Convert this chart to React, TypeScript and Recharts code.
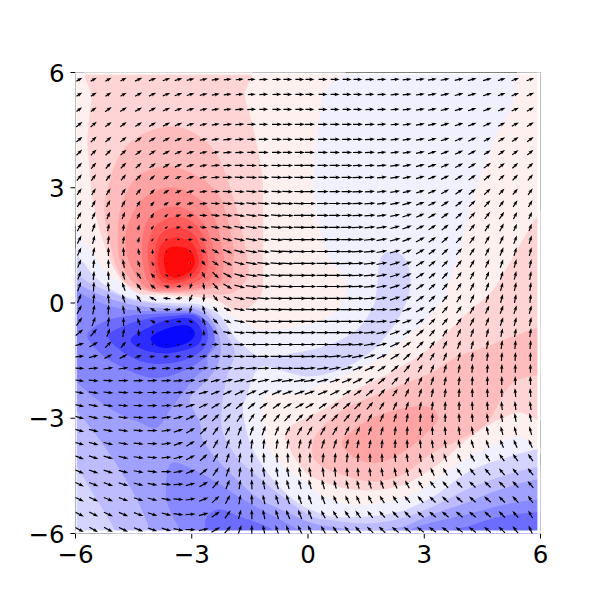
import { ScatterChart, Scatter, XAxis, YAxis, ReferenceArea } from 'recharts'

type P = [number, number]

const ticks = [-6, -3, 0, 3, 6]

// quiver grid (denser round the middle)
const colX = [-5.9, -5.53, -5.15, -4.76, -4.37, -4.01, -3.65, -3.34, -3.03, -2.69, -2.38, -2.07, -1.76, -1.45, -1.14, -0.8, -0.52, -0.21, 0.05, 0.39, 0.7, 1.01, 1.29, 1.6, 1.91, 2.25, 2.56, 2.9, 3.21, 3.54, 3.9, 4.24, 4.63, 5.0, 5.35, 5.74]
const rowY = [5.82, 5.43, 5.04, 4.65, 4.26, 3.92, 3.58, 3.27, 2.9, 2.59, 2.28, 1.97, 1.65, 1.34, 1.03, 0.72, 0.43, 0.12, -0.17, -0.48, -0.77, -1.08, -1.39, -1.7, -2.02, -2.33, -2.67, -2.98, -3.32, -3.66, -4.02, -4.39, -4.72, -5.11, -5.5, -5.9]

// arrow direction in degrees, one row per rowY
const angles = [
  [30,30,30,28,25,22,20,18,15,12,10,7,5,3,2,1,0,0,0,0,0,0,0,2,3,4,5,7,9,11,13,15,16,18,19,20],
  [33,33,32,30,28,25,22,20,16,13,10,7,5,3,2,1,0,0,0,0,0,0,0,2,3,5,6,8,10,12,14,16,18,20,22,23],
  [36,36,35,33,30,27,24,21,17,13,10,7,4,2,1,0,0,0,0,0,0,0,0,2,3,5,7,9,11,14,16,18,21,23,25,27],
  [40,40,38,36,33,30,26,22,18,14,10,6,4,2,0,0,0,0,0,0,0,0,0,2,4,5,8,10,13,16,18,21,24,27,29,31],
  [42,43,42,39,36,32,28,23,18,14,10,6,3,1,0,-1,-1,0,0,0,0,0,1,3,4,6,9,11,15,18,21,25,28,31,34,36],
  [45,46,45,42,38,34,29,24,18,13,9,5,2,0,-1,-1,-1,0,0,0,0,0,1,3,5,7,10,13,17,21,24,28,32,35,38,40],
  [48,50,49,46,42,37,31,24,17,12,7,3,0,-1,-2,-1,-1,0,0,0,0,0,1,3,5,8,11,15,19,23,28,32,36,40,43,45],
  [52,54,53,51,46,41,32,24,16,10,5,1,-2,-3,-3,-2,-1,-1,0,0,0,0,2,3,6,9,12,17,21,26,31,36,40,44,47,50],
  [55,58,58,56,52,45,34,23,15,7,2,-2,-4,-4,-4,-3,-2,-1,0,0,0,0,2,4,7,10,14,19,24,30,35,40,44,48,52,55],
  [58,62,62,62,58,50,36,23,12,4,-2,-5,-6,-6,-5,-4,-2,-1,0,0,0,1,2,4,8,11,16,21,27,33,38,44,48,53,57,60],
  [60,65,68,68,65,58,40,20,8,0,-6,-8,-9,-8,-6,-5,-3,-1,0,0,0,1,3,5,8,12,18,24,30,36,42,47,53,57,62,65],
  [62,70,78,84,75,55,35,15,0,-5,-8,-10,-10,-8,-7,-5,-3,-1,0,0,0,1,3,6,9,14,20,26,33,39,45,51,57,62,66,70],
  [63,75,83,80,75,55,30,5,-5,-15,-18,-15,-12,-10,-7,-5,-3,-1,0,0,0,1,3,6,10,15,21,28,35,42,48,54,60,65,70,73],
  [65,78,90,93,100,90,60,0,-30,-35,-30,-22,-15,-10,-7,-5,-3,-1,0,0,0,1,3,6,10,16,23,30,37,44,50,57,63,68,73,76],
  [68,84,92,100,110,115,120,180,-60,-52,-35,-25,-15,-10,-7,-5,-3,-1,0,0,0,1,3,6,11,17,24,32,39,46,53,60,65,71,75,78],
  [70,85,95,105,125,132,150,180,-100,-65,-45,-28,-15,-8,-6,-4,-2,-1,0,0,0,1,3,6,11,18,25,33,41,48,55,62,67,73,77,80],
  [70,87,97,110,127,142,165,185,-110,-80,-50,-30,-15,-8,-5,-3,-2,0,0,0,0,1,2,6,11,18,26,34,42,50,57,63,69,74,78,82],
  [68,85,97,108,125,150,175,190,245,-95,-50,-25,-12,-7,-4,-2,-1,0,0,0,0,0,2,5,11,18,26,35,43,51,58,64,70,75,79,83],
  [62,78,88,100,120,150,178,190,255,105,-50,-25,-10,-5,-3,-2,-1,0,0,0,0,0,0,0,0,5,20,30,40,50,55,60,65,70,72,75],
  [55,70,82,90,110,150,172,180,150,112,-45,-25,-10,-4,-2,-1,0,0,0,0,0,0,0,0,5,10,20,35,45,50,55,62,68,72,75,78],
  [40,50,70,80,95,260,240,200,40,95,-40,-12,-5,-2,-1,0,0,0,0,0,0,0,2,5,10,20,30,40,50,57,65,70,75,78,80,82],
  [15,30,45,50,40,-60,-30,-5,25,12,0,-3,-2,0,0,0,0,0,0,0,0,3,5,10,15,25,35,45,55,62,68,75,80,82,85,85],
  [5,15,28,28,22,8,8,8,8,5,1,0,0,0,0,0,0,0,2,2,5,8,12,18,25,32,42,52,60,68,75,80,83,85,87,88],
  [-3,4,8,8,8,5,5,5,5,7,8,8,6,4,3,2,1,1,5,8,10,15,20,25,33,40,50,60,67,73,80,85,87,88,90,90],
  [-8,-5,-2,0,2,3,4,5,8,10,14,15,14,13,12,11,10,10,10,15,18,22,27,33,40,48,58,65,72,78,83,87,90,90,92,92],
  [-10,-8,-6,-4,-2,0,3,5,10,15,22,25,25,25,25,23,20,20,20,22,27,30,35,40,48,55,65,72,78,82,87,90,92,92,95,95],
  [-12,-10,-8,-5,-1,2,5,10,18,25,32,36,40,40,37,35,32,30,30,35,38,40,45,50,57,65,72,78,83,87,90,93,95,97,97,98],
  [-15,-13,-10,-6,-3,2,7,15,25,35,45,50,55,55,52,50,47,45,45,45,47,50,55,60,67,73,80,85,88,90,93,95,98,100,100,102],
  [-15,-14,-11,-8,-4,0,8,18,30,45,55,62,68,70,70,68,63,60,60,60,60,63,65,70,75,82,87,90,92,95,97,100,102,105,105,105],
  [-17,-15,-13,-10,-6,-1,8,20,32,45,60,70,77,83,85,82,80,78,75,72,72,75,78,80,85,88,92,95,97,100,103,107,110,113,113,115],
  [-20,-18,-15,-12,-8,-4,5,15,27,42,60,72,82,88,92,93,92,90,90,85,85,85,88,90,92,95,97,100,105,110,115,120,122,125,125,125],
  [-22,-20,-18,-15,-10,-6,0,10,22,38,55,70,82,92,98,100,100,100,100,97,95,93,95,97,100,102,105,110,115,120,125,128,130,130,130,128],
  [-25,-22,-20,-17,-15,-10,-5,3,15,30,50,68,82,92,100,105,105,105,105,105,105,105,105,107,110,115,118,122,128,130,133,135,135,135,133,130],
  [-25,-25,-22,-20,-18,-15,-10,-4,8,22,42,62,80,92,102,107,110,110,110,112,115,115,115,118,122,125,128,130,135,137,138,138,138,135,133,125],
  [-27,-27,-25,-22,-20,-18,-15,-8,3,15,35,55,75,92,102,108,112,112,112,118,122,125,125,128,130,133,135,137,140,140,140,140,138,135,130,120],
  [-27,-30,-28,-25,-22,-20,-17,-12,-2,12,30,50,70,90,102,108,112,115,115,120,125,130,132,135,137,140,142,143,145,145,143,142,140,135,128,115],
]

// arrow magnitude, one row per rowY
const speeds = [
  [7,7,7,7,8,8,8,8,8,8,8,8,8,8,9,9,9,9,9,9,9,9,9,9,9,9,9,9,9,9,9,9,9,8,8,8],
  [7,7,7,7,8,8,8,8,8,8,8,8,8,8,9,9,9,9,9,9,9,9,9,9,9,9,9,9,9,9,9,9,9,8,8,8],
  [7,7,8,8,8,8,8,8,8,8,8,8,9,9,9,9,9,9,9,9,9,9,9,9,9,9,9,9,9,9,9,9,9,8,8,8],
  [8,8,8,8,8,8,8,8,8,8,8,9,9,9,9,10,10,10,10,10,10,10,10,10,9,9,9,9,9,9,9,9,9,8,8,8],
  [8,8,8,8,8,8,8,8,8,8,8,9,9,9,10,10,10,10,10,10,10,10,10,10,10,9,9,9,9,9,9,9,8,8,8,8],
  [8,8,8,8,8,8,8,8,8,8,8,9,9,9,10,10,10,10,10,10,10,10,10,10,9,9,9,9,9,9,9,9,8,8,8,8],
  [8,8,8,8,8,8,8,8,8,8,9,9,10,10,10,11,11,11,11,11,11,11,10,10,10,10,9,9,9,9,9,9,9,8,8,8],
  [8,8,8,8,8,7,7,7,8,8,9,10,10,11,11,11,11,11,11,11,11,11,11,10,10,10,9,9,9,9,9,9,9,8,8,8],
  [8,8,8,8,8,7,7,7,8,8,9,10,10,11,11,11,11,11,11,11,11,11,11,10,10,10,9,9,9,9,9,9,9,8,8,8],
  [8,8,8,8,7,6,6,6,7,8,9,10,11,11,12,12,12,12,12,12,12,11,11,11,10,10,10,9,9,9,9,9,9,8,8,8],
  [8,8,8,8,7,6,5,6,7,8,9,10,11,11,12,12,12,12,12,12,12,11,11,11,10,10,10,9,9,9,9,9,9,9,8,8],
  [9,9,8,7,6,5,4,5,6,7,9,10,11,12,12,12,12,12,13,13,12,12,12,11,11,10,10,9,9,9,9,9,9,9,8,8],
  [9,9,9,8,6,4,3,3,5,7,9,10,11,12,12,12,13,13,13,13,13,12,12,12,11,11,10,10,9,9,9,9,9,9,9,9],
  [9,9,9,9,7,5,2,1,3,6,8,10,11,12,12,13,13,13,13,13,13,12,12,12,11,11,10,10,9,9,9,9,9,9,9,9],
  [9,9,9,9,7,5,1,0.5,2,6,8,10,11,12,13,13,13,13,13,13,13,13,12,12,11,11,10,10,9,9,9,9,9,9,9,9],
  [9,9,9,9,8,6,4,2,4,7,9,10,11,12,13,13,13,13,13,13,13,13,12,12,11,11,10,10,9,9,9,9,9,9,9,9],
  [10,10,10,9,8,7,6,5,6,7,9,10,11,12,13,13,13,13,13,13,13,13,12,12,11,11,10,10,9,9,9,9,9,9,9,9],
  [10,10,10,9,8,8,8,7,8,8,8,9,11,12,13,13,13,13,13,13,13,13,12,12,11,11,10,10,9,9,9,9,9,9,9,9],
  [10,10,10,9,8,7,7,7,8,9,7,8,11,12,13,13,13,13,13,13,13,13,12,12,11,11,10,10,9,9,9,9,9,9,9,9],
  [10,10,10,9,8,6,5,5,5,8,7,8,11,12,13,13,13,13,13,13,13,13,12,12,11,11,10,10,9,9,9,9,9,9,9,9],
  [10,10,9,9,7,4,1.5,1,1.5,6,6,9,11,12,13,13,13,13,13,13,13,13,12,12,11,11,10,10,9,9,9,9,9,9,9,9],
  [10,10,9,8,5,3,2,3,4,5,7,10,11,12,13,13,13,13,13,13,13,13,12,12,11,11,10,10,9,9,9,9,9,9,9,9],
  [10,10,9,9,7,6,6,6,7,8,9,10,11,12,12,13,13,13,13,13,13,12,12,12,11,11,10,10,9,9,9,9,9,9,9,9],
  [10,10,10,10,9,9,9,9,9,10,10,11,11,12,12,12,12,12,12,12,12,12,11,11,10,10,10,9,9,9,9,9,9,9,9,9],
  [10,10,10,10,10,10,10,10,10,10,10,11,11,11,12,12,12,12,12,12,11,11,11,10,10,10,9,9,9,9,9,9,9,9,9,9],
  [10,10,10,10,10,10,10,10,10,10,10,10,11,11,11,11,11,11,11,11,11,10,10,10,10,9,9,9,9,9,9,9,9,9,9,9],
  [10,10,10,10,10,10,10,10,10,10,10,10,10,10,10,10,10,10,10,10,10,10,10,10,9,9,9,9,9,9,9,9,9,9,9,9],
  [10,10,10,10,10,10,10,10,10,10,10,10,10,10,10,10,10,10,10,10,10,10,10,9,9,9,9,9,9,9,9,9,9,9,9,9],
  [10,10,10,10,10,10,10,10,10,10,10,10,10,10,10,10,10,10,10,10,10,10,9,9,9,9,9,9,9,9,9,9,9,9,9,9],
  [10,10,10,10,10,10,10,10,10,10,10,10,10,10,10,10,10,10,10,10,10,10,9,9,9,9,9,9,9,9,9,9,9,9,9,9],
  [10,10,10,10,10,10,10,10,10,10,10,10,10,10,10,10,10,10,10,10,10,10,9,9,9,9,9,9,9,9,9,9,9,9,9,9],
  [10,10,10,10,10,10,10,10,10,10,10,10,10,10,10,10,10,10,10,10,10,9,9,9,9,9,9,9,9,9,9,9,9,9,9,9],
  [10,10,10,10,10,10,10,10,10,10,10,10,10,10,10,10,10,10,10,10,9,9,9,9,9,9,9,9,9,9,9,9,9,9,9,9],
  [10,10,10,10,10,10,10,10,10,10,10,10,10,10,10,10,10,10,10,10,9,9,9,9,9,9,9,9,9,9,9,9,9,9,9,9],
  [10,10,10,10,10,10,10,10,10,10,10,10,10,10,10,10,10,10,10,9,9,9,9,9,9,9,9,9,9,9,9,9,9,9,9,9],
  [10,10,10,10,10,10,10,10,10,10,10,10,10,10,10,10,10,10,10,9,9,9,9,9,9,9,9,9,9,9,9,9,9,9,9,9],
]

// filled contour outlines, in data units
const fieldExtent: P[] = [[-5.97,5.95],[5.92,5.95],[5.92,-5.92],[-5.97,-5.92]]
const maskLeft: P[] = [[-6.5,6.5],[-5.97,6.5],[-5.97,-6.5],[-6.5,-6.5]]
const maskRight: P[] = [[5.92,6.5],[6.5,6.5],[6.5,-6.5],[5.92,-6.5]]
const maskTop: P[] = [[-6.5,6.5],[6.5,6.5],[6.5,5.95],[-6.5,5.95]]
const maskBottom: P[] = [[-6.5,-5.92],[6.5,-5.92],[6.5,-6.5],[-6.5,-6.5]]

const red0a: P[] = [[-6.41,6.34],[0.57,6.34],[0.39,5.43],[0.23,4.26],[0.13,3.3],[0.23,2.25],[0.57,1.13],[0.88,0.79],[0.98,0.48],[0.91,0.09],[0.57,-0.35],[-0.28,-0.61],[-1.16,-0.69],[-1.58,-0.56],[-2.02,-0.3],[-2.2,-0.17],[-2.82,0.07],[-3.41,0.09],[-4.11,0.2],[-4.71,0.46],[-5.15,0.74],[-5.48,1.18],[-5.82,1.65],[-5.97,1.97],[-6.41,2.56]]
const red0b: P[] = [[5.53,6.34],[5.3,5.22],[4.89,4.44],[4.45,3.29],[4.19,2.51],[3.93,1.39],[3.67,0.61],[3.49,0.09],[3.08,-0.43],[2.56,-0.87],[1.94,-1.39],[1.09,-1.81],[0.23,-2.17],[-0.21,-2.38],[-0.91,-2.33],[-1.16,-2.51],[-1.16,-3.11],[-1.03,-3.74],[-0.54,-4.33],[0.05,-4.72],[0.23,-4.93],[1.09,-5.25],[1.94,-5.19],[2.82,-4.93],[3.67,-4.33],[4.53,-3.81],[5.4,-3.47],[6.52,-3.24],[6.52,6.34]]
const red1a: P[] = [[-5.46,6.34],[-1.71,6.34],[-1.63,5.38],[-1.42,4.59],[-1.19,3.4],[-1.16,2.43],[-1.16,0.95],[-1.19,0.27],[-1.5,-0.09],[-1.94,-0.17],[-2.38,0.09],[-3.05,0.17],[-3.83,0.22],[-4.42,0.27],[-4.94,0.79],[-5.3,1.65],[-5.56,2.69],[-5.66,3.74],[-5.69,4.33],[-5.59,5.3]]
const red1b: P[] = [[6.52,2.82],[5.92,2.25],[5.66,1.84],[5.15,0.95],[4.71,0.27],[4.11,-0.25],[3.41,-0.95],[2.72,-1.47],[1.94,-1.91],[1.09,-2.33],[0.39,-2.77],[-0.54,-3.29],[-0.47,-3.81],[-0.13,-4.33],[0.23,-4.59],[1.09,-4.85],[1.94,-4.85],[2.64,-4.65],[3.41,-4.15],[4.11,-3.55],[4.78,-3.11],[5.4,-2.85],[6.52,-2.64]]
const red2a: P[] = [[-3.49,4.6],[-4.27,4.39],[-4.86,3.86],[-5.2,2.87],[-5.25,2.3],[-5.12,1.57],[-4.91,0.87],[-4.55,0.43],[-3.34,0.25],[-2.46,0.22],[-1.94,0.27],[-1.6,0.61],[-1.55,1.05],[-1.84,2.43],[-2.28,3.73],[-2.79,4.33]]
const red2b: P[] = [[6.52,-0.56],[5.3,-0.87],[4.63,-1.13],[3.85,-1.39],[3.23,-1.78],[2.56,-2.07],[1.78,-2.38],[0.91,-2.77],[0.31,-3.29],[0.1,-3.74],[0.23,-4.15],[0.83,-4.46],[1.68,-4.65],[2.46,-4.46],[3.23,-3.89],[3.93,-3.55],[4.63,-3.11],[5.3,-2.07],[6.52,-1.68]]
const red3a: P[] = [[-3.39,3.53],[-2.35,2.88],[-1.94,1.57],[-1.94,1.08],[-2.09,0.51],[-3.44,0.27],[-4.34,0.4],[-4.81,1.0],[-4.91,1.65],[-4.81,2.56],[-4.34,3.34]]
const red3b: P[] = [[0.88,-3.68],[1.09,-3.37],[1.68,-2.98],[2.56,-2.72],[3.15,-2.72],[3.36,-2.98],[3.15,-3.29],[2.56,-3.81],[1.86,-4.15],[1.27,-4.07]]
const red4: P[] = [[-3.39,3.0],[-2.53,2.43],[-2.2,1.39],[-2.2,0.87],[-2.35,0.51],[-3.44,0.32],[-4.22,0.43],[-4.66,1.21],[-4.66,1.99],[-4.22,2.74]]
const red5: P[] = [[-3.39,2.51],[-2.72,2.1],[-2.4,1.21],[-2.53,0.61],[-3.44,0.38],[-4.09,0.51],[-4.29,1.39],[-4.09,2.25]]
const red6: P[] = [[-3.39,2.25],[-2.84,1.97],[-2.59,1.21],[-2.72,0.66],[-3.44,0.43],[-3.96,0.56],[-4.14,1.31],[-3.96,1.97]]
const red7: P[] = [[-3.39,1.97],[-2.92,1.76],[-2.72,1.21],[-2.84,0.74],[-3.44,0.51],[-3.85,0.64],[-3.96,1.21],[-3.83,1.76]]
const red8: P[] = [[-3.39,1.7],[-3.0,1.57],[-2.82,1.13],[-2.97,0.77],[-3.41,0.59],[-3.78,0.72],[-3.88,1.18],[-3.75,1.57]]
const red9: P[] = [[-3.39,1.47],[-3.05,1.37],[-2.92,1.08],[-3.05,0.82],[-3.41,0.66],[-3.65,0.79],[-3.72,1.13],[-3.65,1.39]]

const blue1: P[] = [[-6.41,1.52],[-5.87,1.13],[-5.56,0.74],[-5.15,0.4],[-4.63,0.14],[-4.11,0.04],[-3.41,-0.01],[-2.82,-0.04],[-2.3,-0.3],[-2.02,-0.69],[-1.76,-1.03],[-1.16,-1.42],[-0.28,-1.29],[0.57,-1.08],[1.27,-0.69],[1.68,-0.09],[1.78,0.43],[1.86,1.13],[2.12,1.34],[2.46,1.21],[2.64,0.69],[2.56,0.09],[2.2,-0.61],[1.6,-1.29],[0.83,-1.73],[-0.03,-1.91],[-0.91,-1.68],[-1.19,-1.65],[-1.42,-1.91],[-1.58,-2.43],[-1.68,-2.77],[-1.55,-3.47],[-1.32,-4.0],[-0.91,-4.59],[-0.39,-5.11],[0.05,-5.37],[0.65,-5.56],[1.53,-5.56],[2.38,-5.43],[3.23,-5.04],[4.11,-4.41],[4.97,-4.07],[5.92,-3.81],[6.52,-3.76],[6.52,-6.42],[-6.41,-6.42]]
const blue2: P[] = [[-6.41,1.0],[-6,0.79],[-5.66,0.53],[-5.15,0.3],[-4.53,0.07],[-4.01,-0.01],[-3.41,-0.08],[-2.82,-0.12],[-2.46,-0.35],[-2.12,-0.82],[-1.89,-1.29],[-2.09,-1.91],[-2.22,-2.69],[-2.2,-3.37],[-1.84,-4.0],[-1.42,-4.41],[-0.8,-4.93],[0.05,-5.53],[0.65,-5.66],[1.53,-5.74],[2.38,-5.61],[3.23,-5.3],[4.11,-4.85],[4.97,-4.52],[5.92,-4.26],[6.52,-4.2],[6.52,-6.42],[-4.86,-6.42],[-4.99,-5.9],[-5.46,-5.11],[-6,-4.2],[-6.41,-3.68]]
const blue3: P[] = [[-6.41,0.74],[-6,0.53],[-5.48,0.27],[-4.89,0.04],[-4.27,-0.09],[-3.59,-0.14],[-2.9,-0.17],[-2.46,-0.48],[-2.25,-1.08],[-2.35,-1.65],[-2.72,-2.12],[-3.05,-2.51],[-2.79,-3.11],[-2.72,-3.55],[-2.35,-4.07],[-1.76,-4.67],[-1.24,-5.11],[-0.54,-5.45],[0.05,-5.71],[0.65,-5.84],[1.53,-5.92],[2.38,-5.84],[3.23,-5.5],[4.11,-5.19],[4.97,-4.85],[5.92,-4.59],[6.52,-4.54],[6.52,-6.42],[-4.03,-6.42],[-4.09,-5.9],[-4.42,-5.11],[-4.86,-4.33],[-5.38,-3.55],[-6,-2.77],[-6.41,-2.38]]
const blue4a: P[] = [[-6.41,0.56],[-6,0.33],[-5.56,0.09],[-4.97,-0.12],[-4.37,-0.2],[-3.59,-0.21],[-2.97,-0.25],[-2.56,-0.56],[-2.38,-1.08],[-2.59,-1.39],[-2.61,-1.65],[-2.97,-1.99],[-3.49,-2.69],[-3.9,-3.24],[-4.34,-3.11],[-4.94,-2.85],[-5.56,-2.43],[-6,-2.04],[-6.41,-1.73]]
const blue4b: P[] = [[-3.49,-4.15],[-2.97,-4.33],[-2.35,-4.67],[-1.68,-5.11],[-0.98,-5.5],[-0.39,-5.82],[0.1,-6.16],[0.1,-6.42],[-3.15,-6.42],[-3.31,-5.9],[-3.49,-5.56],[-3.65,-5.11],[-3.65,-4.52]]
const blue4c: P[] = [[2.25,-6.29],[2.64,-5.9],[3.23,-5.71],[4.11,-5.5],[4.97,-5.27],[5.92,-5.11],[6.52,-5.06],[6.52,-6.42]]
const blue5a: P[] = [[-2.72,-6.29],[-2.66,-5.9],[-2.61,-5.56],[-2.28,-5.37],[-1.76,-5.56],[-1.06,-5.82],[-0.59,-6.16],[-0.59,-6.36]]
const blue5b: P[] = [[3.41,-6.36],[3.59,-5.97],[4.11,-5.82],[4.97,-5.56],[5.92,-5.45],[6.52,-5.43],[6.52,-6.42]]
const blue6: P[] = [[-5.69,-0.82],[-5.25,-0.48],[-4.6,-0.33],[-3.57,-0.27],[-2.87,-0.3],[-2.43,-0.74],[-2.59,-1.34],[-3.31,-1.81],[-4.09,-1.94],[-4.99,-1.57],[-5.46,-1.21]]
const blue7: P[] = [[-5.15,-0.87],[-4.73,-0.59],[-4.09,-0.4],[-3.52,-0.34],[-2.92,-0.33],[-2.59,-0.74],[-2.72,-1.21],[-3.31,-1.52],[-4.09,-1.57],[-4.73,-1.31]]
const blue8: P[] = [[-4.58,-0.95],[-4.22,-0.69],[-3.7,-0.46],[-3.05,-0.4],[-2.74,-0.74],[-2.84,-1.08],[-3.31,-1.26],[-3.83,-1.31],[-4.34,-1.18]]
const blue9: P[] = [[-4.06,-0.92],[-3.83,-0.74],[-3.39,-0.59],[-3.05,-0.61],[-2.92,-0.82],[-3.1,-1.03],[-3.52,-1.16],[-3.88,-1.13]]

const reds = ['#fff0f0', '#ffd4d4', '#ffbcbc', '#ffa4a4', '#ff8c8c', '#ff7474', '#ff5c5c', '#ff4444', '#ff2a2a', '#ff0a0a']
const blues = ['#f0f0ff', '#d4d4ff', '#bcbcff', '#a0a0ff', '#8888ff', '#6c6cff', '#4e4eff', '#2c2cff', '#0808ff']

const bands: { pts: P[]; fill: string; straight?: boolean }[] = [
  { pts: fieldExtent, fill: blues[0], straight: true },
  { pts: red0a, fill: reds[0] },
  { pts: red0b, fill: reds[0] },
  { pts: red1a, fill: reds[1] },
  { pts: red1b, fill: reds[1] },
  { pts: red2a, fill: reds[2] },
  { pts: red2b, fill: reds[2] },
  { pts: red3a, fill: reds[3] },
  { pts: red3b, fill: reds[3] },
  { pts: red4, fill: reds[4] },
  { pts: red5, fill: reds[5] },
  { pts: red6, fill: reds[6] },
  { pts: red7, fill: reds[7] },
  { pts: red8, fill: reds[8] },
  { pts: red9, fill: reds[9] },
  { pts: blue1, fill: blues[1] },
  { pts: blue2, fill: blues[2] },
  { pts: blue3, fill: blues[3] },
  { pts: blue4a, fill: blues[4] },
  { pts: blue4b, fill: blues[4] },
  { pts: blue4c, fill: blues[4] },
  { pts: blue5a, fill: blues[5] },
  { pts: blue5b, fill: blues[5] },
  { pts: blue6, fill: blues[5] },
  { pts: blue7, fill: blues[6] },
  { pts: blue8, fill: blues[7] },
  { pts: blue9, fill: blues[8] },
  { pts: maskLeft, fill: '#ffffff', straight: true },
  { pts: maskRight, fill: '#ffffff', straight: true },
  { pts: maskTop, fill: '#ffffff', straight: true },
  { pts: maskBottom, fill: '#ffffff', straight: true },
]

const arrows = rowY.flatMap((y, r) => colX.map((x, c) => ({ x, y, angle: angles[r][c], speed: speeds[r][c] })))

// closed spline through the outline points the Scatter line hands over
const closedPath = (pts: { x: number; y: number }[], straight?: boolean) => {
  const n = pts.length
  if (straight) return 'M' + pts.map((p) => `${p.x} ${p.y}`).join('L') + 'Z'
  let d = `M${pts[0].x} ${pts[0].y}`
  for (let i = 0; i < n; i++) {
    const p0 = pts[(i - 1 + n) % n], p1 = pts[i], p2 = pts[(i + 1) % n], p3 = pts[(i + 2) % n]
    d += `C${p1.x + (p2.x - p0.x) / 6} ${p1.y + (p2.y - p0.y) / 6} ${p2.x - (p3.x - p1.x) / 6} ${p2.y - (p3.y - p1.y) / 6} ${p2.x} ${p2.y}`
  }
  return d + 'Z'
}

const NoPoint = () => <g />

const Arrow = (props: any) => {
  const { cx, cy, payload } = props
  const L = payload.speed
  const k = Math.min(1, L / 6)
  const hl = 4.4 * k, hw = 1.8 * k, sw = 0.6 * k
  const a = (payload.angle * Math.PI) / 180
  const ux = Math.cos(a), uy = -Math.sin(a)
  const nx = -uy, ny = ux
  const pt = (along: number, across: number) => `${cx + ux * along + nx * across},${cy + uy * along + ny * across}`
  const s = -L / 2, e = L / 2
  const pts = [pt(s, sw), pt(e - hl, sw), pt(e - hl - 0.8 * k, hw), pt(e, 0), pt(e - hl - 0.8 * k, -hw), pt(e - hl, -sw), pt(s, -sw)]
  return <polygon points={pts.join(' ')} fill='#000' />
}

const fmt = (v: number) => (v < 0 ? `\u2212${Math.abs(v)}` : `${v}`)

const XTick = (props: any) => (
  <text x={props.x} y={props.y + 18} textAnchor='middle' fontFamily='DejaVu Sans' fontSize={24.5} fill='#000'>
    {fmt(props.payload.value)}
  </text>
)

const YTick = (props: any) => (
  <text x={props.x + 1} y={props.y + 9} textAnchor='end' fontFamily='DejaVu Sans' fontSize={24.5} fill='#000'>
    {fmt(props.payload.value)}
  </text>
)

export default function App() {
  return (
    <div style={{ position: 'absolute', left: 0, top: 0, width: 600, height: 600 }}>
      <ScatterChart width={600} height={600} margin={{ top: 72.5, right: 59.5, bottom: 0, left: 0 }}>
        <XAxis type='number' dataKey='x' domain={[-6, 6]} ticks={ticks} interval={0} allowDataOverflow height={66.5}
          tick={<XTick />} tickSize={5} tickMargin={6} stroke='#000' />
        <YAxis type='number' dataKey='y' domain={[-6, 6]} ticks={ticks} interval={0} allowDataOverflow width={75.5}
          tick={<YTick />} tickSize={5} tickMargin={7} stroke='#000' />
        {bands.map((b, i) => (
          <Scatter key={i} isAnimationActive={false} data={b.pts.map(([x, y]) => ({ x, y }))} shape={NoPoint}
            line={(p: any) => <path d={closedPath(p.points, b.straight)} fill={b.fill} stroke='none' />} />
        ))}
        <Scatter isAnimationActive={false} data={arrows} shape={Arrow} />
        <ReferenceArea x1={-6} x2={6} y1={-6} y2={6} fill='none' stroke='#000' strokeWidth={1} />
      </ScatterChart>
    </div>
  )
}
